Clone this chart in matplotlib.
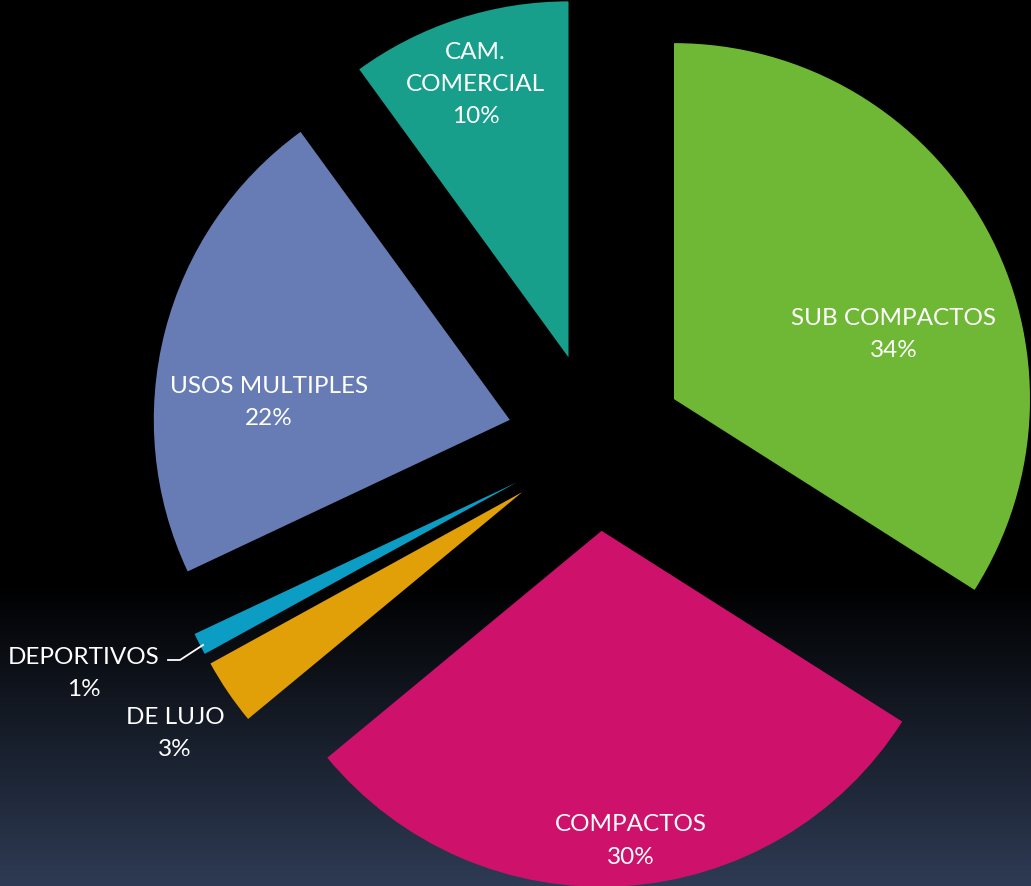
import numpy as np
import matplotlib
matplotlib.use("Agg")
import matplotlib.pyplot as plt

# ---- data ----
categories = ["SUB COMPACTOS", "COMPACTOS", "DE LUJO", "DEPORTIVOS", "USOS MULTIPLES", "CAM.\nCOMERCIAL"]
values = [34, 30, 3, 1, 22, 10]
colors = ["#6FB835", "#CE126B", "#E2A008", "#0C9DC4", "#677CB4", "#179F8B"]

# label anchor positions (in units of pie radius, pie centre at origin)
label_pos = [(0.836, 0.305), (0.098, -1.118), (-1.183, -0.817), (-1.440, -0.648),
             (-0.919, 0.115), (-0.338, 1.008)]

W, H = 1031, 887
fig = plt.figure(figsize=(W / 100, H / 100), dpi=100)

# background gradient
bg = fig.add_axes([0, 0, 1, 1])
bg.set_axis_off()
rows = np.linspace(0, 1, H)
t = np.clip((rows - 0.66) / 0.34, 0, 1)
top = np.array([0, 0, 0])
bot = np.array([46, 59, 84]) / 255
grad = top[None, :] * (1 - t[:, None]) + bot[None, :] * t[:, None]
img = np.repeat(grad[:, None, :], W, axis=1)
bg.imshow(img, aspect="auto", extent=[0, 1, 0, 1], origin="upper")
bg.set_xlim(0, 1)
bg.set_ylim(0, 1)

ax = fig.add_axes([0, 0, 1, 1])
ax.set_facecolor("none")
ax.patch.set_alpha(0)

explode = [0.25] * len(values)
wedges, _ = ax.pie(values, colors=colors, startangle=90, counterclock=False,
                   explode=explode, radius=1.0,
                   wedgeprops=dict(linewidth=0))

cx, cy, R = 596, 443, 356
ax.set_xlim(-cx / R, (W - cx) / R)
ax.set_ylim(-(H - cy) / R, cy / R)
ax.set_aspect("auto")
ax.set_axis_off()

font = ["Lato", "DejaVu Sans"]
for name, v, (x, y) in zip(categories, values, label_pos):
    ax.text(x, y, f"{name}\n{v}%", ha="center", va="center", color="white",
            fontsize=17.5, family=font, linespacing=1.65)

# leader line for DEPORTIVOS
def px(xp, yp):
    return ((xp - cx) / R, (cy - yp) / R)
p1, p2, p3 = px(168, 661), px(180, 661), px(203, 646)
ax.plot([p1[0], p2[0], p3[0]], [p1[1], p2[1], p3[1]], color="white", lw=1.3)

fig.savefig("out.png", dpi=100, facecolor="black")
